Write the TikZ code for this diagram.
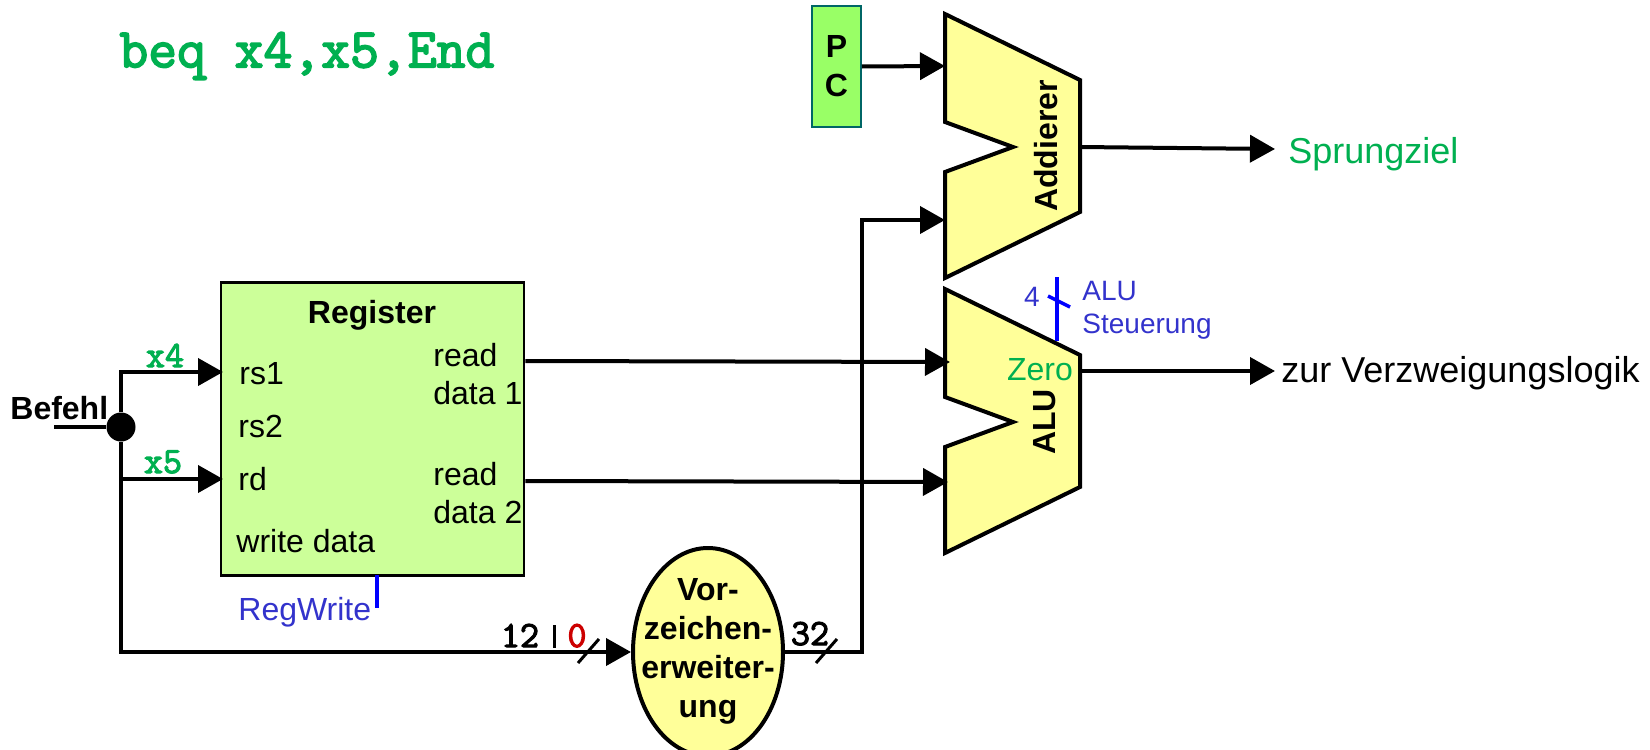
\documentclass[tikz,border=0pt]{standalone}
\usepackage{fontspec}
\setmainfont{Liberation Sans}
\newfontfamily\codefam{Latin Modern Mono}[FakeBold=3]
\usetikzlibrary{arrows.meta,shapes.geometric}

\definecolor{clrreg}{HTML}{CCFF99}
\definecolor{clrunit}{HTML}{FFFF99}
\definecolor{clrpc}{HTML}{99FF66}
\definecolor{clrpcline}{HTML}{006666}
\definecolor{clrinstr}{HTML}{00B050}
\definecolor{clrctl}{HTML}{3333CC}
\definecolor{clrzero}{HTML}{CC0000}

\newcommand{\codefont}[1]{\fontsize{#1pt}{#1pt}\selectfont\codefam}

\tikzset{
	wire/.style={line width=2pt},
	sig/.style={wire,-{Triangle[length=12.5pt,width=13.5pt]}},
	ctl/.style={line width=1.75pt,blue},
	txt/.style={font=\fontsize{16pt}{19pt}\selectfont,inner sep=0pt,align=left},
	txtbig/.style={font=\fontsize{18pt}{21pt}\selectfont,inner sep=0pt},
	txtb/.style={font=\fontsize{16pt}{19.5pt}\selectfont\bfseries,inner sep=0pt,align=center},
	code/.style={font=\codefont{18.5},inner sep=0pt},
}

\begin{document}
\begin{tikzpicture}[x=0.5pt,y=-0.5pt]

\def\unitL{945}
\def\unitR{1080}
\def\unitTip{1013}

\newcommand{\unitshape}[2]{%
	\draw [line width=2pt,fill=clrunit] (\unitL,#1+14) -- (\unitR,#1+80)
	-- (\unitR,#1+212) -- (\unitL,#1+278) -- (\unitL,#1+172)
	-- (\unitTip,#1+147) -- (\unitL,#1+122) -- cycle;
	\coordinate (#2inA) at (\unitL,#1+66);
	\coordinate (#2inB) at (\unitL,#1+220);
}

\useasboundingbox (0,0) rectangle (1650,750);

% headline
\node [code,font=\codefont{28},text=clrinstr,anchor=west] (instr) at (119,56) {beq x4,x5,End};

% register file
\node [draw,line width=1.25pt,fill=clrreg,minimum width=151.5pt,minimum height=146.5pt,inner sep=0pt] (reg) at (372.5,429) {};
\node [txtb] (regtitle) at (372,315) {Register};
\node [txt,anchor=west] (rsone) at (239,374) {rs1};
\node [txt,anchor=west] (rstwo) at (238,426) {rs2};
\node [txt,anchor=west] (rdreg) at (238,479) {rd};
\node [txt,anchor=west] (wdata) at (236,541) {write data};
\node [txt,anchor=west] (rdataone) at (433,374) {read\\data 1};
\node [txt,anchor=west] (rdatatwo) at (433,493) {read\\data 2};

% adder and alu
\unitshape{0}{add}
\unitshape{275}{alu}
\node [txtb,rotate=90] (addlabel) at (1046,146) {Addierer};
\node [txtb,rotate=90] (alulabel) at (1045,422) {ALU};
\node [txt,text=clrinstr,anchor=base] (zero) at (1040,380) {Zero};

% pc
\node [draw=clrpcline,line width=0.75pt,fill=clrpc,minimum width=24.5pt,minimum height=60.5pt,inner sep=0pt,txtb] (pc) at (836.5,66.5) {P\\C};

% sign extension
\node [ellipse,draw,line width=2pt,fill=clrunit,minimum width=75pt,minimum height=104pt,inner sep=0pt] (ext) at (708,652) {};
\node [txtb] (extlabel) at (708,651) {Vor-\\zeichen-\\erweiter-\\ung};

% instruction input
\coordinate (befehlin) at (54,427);
\node [circle,fill=black,minimum size=14.5pt,inner sep=0pt] (dot) at (121,427) {};
\node [txtb,anchor=base west] (befehl) at (10,419) {Befehl};
\coordinate (rsonein) at (223,372);
\coordinate (rdin) at (223,479);
\draw [wire] (befehlin) -- (dot);
\draw [sig] (dot) |- (rsonein);
\draw [sig] (dot) |- (rdin);
\draw [sig] (dot) |- (ext.west);
\node [code,text=clrinstr,anchor=base] (xfour) at (165,367) {x4};
\node [code,text=clrinstr,anchor=base] (xfive) at (163,473) {x5};

% data paths
\coordinate (rdoneout) at (reg.east |- 0,361);
\coordinate (rdtwoout) at (reg.east |- 0,481);
\coordinate (bend) at (862,220);
\coordinate (aluinone) at (950,362);
\coordinate (aluintwo) at (948,482);
\draw [sig] (rdoneout) -- (aluinone);
\draw [sig] (rdtwoout) -- (aluintwo);
\draw [sig] (pc.east) -- (addinA);
\draw [sig] (ext.east) -| (bend) -- (addinB);

% outputs
\node [txtbig,text=clrinstr,anchor=west] (target) at (1288,154) {Sprungziel};
\node [txtbig,anchor=west] (branch) at (1281,373) {zur Verzweigungslogik};
\coordinate (addout) at (\unitR,147);
\coordinate (aluout) at (\unitR,371);
\coordinate (targetin) at (1275,149);
\coordinate (branchin) at (1275,371);
\draw [sig] (addout) -- (targetin);
\draw [sig] (aluout) -- (branchin);

% bus widths
\node [code,anchor=base] (immhigh) at (520,647) {12};
\node [code,text=clrzero,anchor=base] (immlow) at (577,647) {0};
\draw [line width=1.5pt] (554,625) -- (554,648);
\draw [line width=1.5pt] (578,663) -- ++(21,-24);
\node [code,anchor=base] (extwidth) at (810,645) {32};
\draw [line width=1.5pt] (816,663) -- ++(21,-24);

% control
\coordinate (ctltop) at (1057,277);
\coordinate (ctlbot) at (1057,341);
\draw [ctl,line width=2pt] (ctltop) -- (ctlbot);
\draw [ctl] (1048,296) -- (1070,307);
\node [font=\fontsize{14pt}{17pt}\selectfont,text=clrctl,inner sep=0pt] (four) at (1032,297) {4};
\node [font=\fontsize{14pt}{16.5pt}\selectfont,text=clrctl,inner sep=0pt,align=left,anchor=west] (aluctl) at (1082,310) {ALU\\Steuerung};
\coordinate (wrtop) at (377,575);
\coordinate (wrbot) at (377,608);
\draw [ctl,line width=2pt] (wrtop) -- (wrbot);
\node [txt,text=clrctl,anchor=west] (regwrite) at (238,612) {RegWrite};

\end{tikzpicture}
\end{document}
